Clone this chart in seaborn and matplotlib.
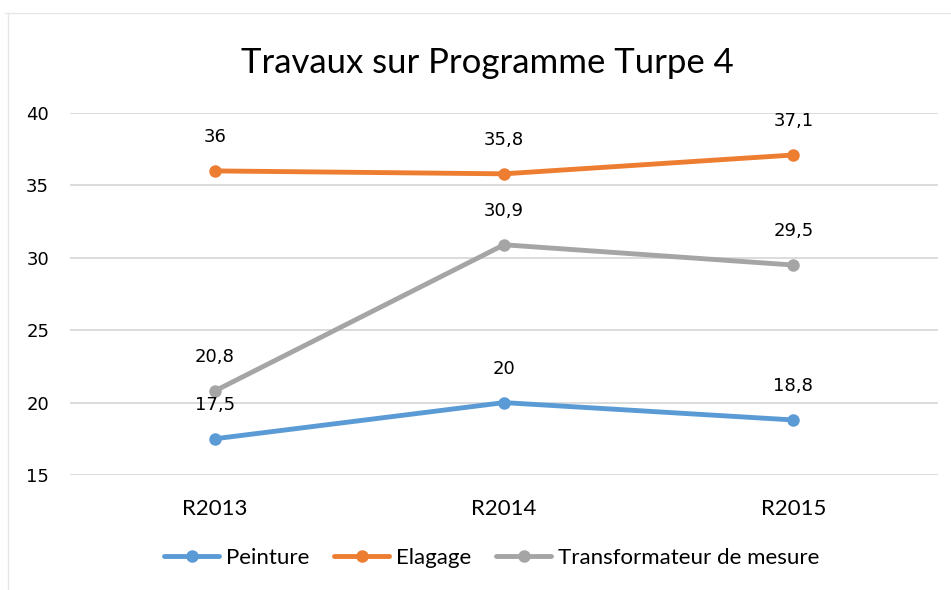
import matplotlib
matplotlib.use("Agg")
import matplotlib.pyplot as plt
import matplotlib.lines as mlines
import seaborn as sns
import pandas as pd

# chart data
categories = ["R2013", "R2014", "R2015"]
peinture = [17.5, 20, 18.8]
elagage = [36, 35.8, 37.1]
transfo = [20.8, 30.9, 29.5]
series_names = ["Peinture", "Elagage", "Transformateur de mesure"]
colors = ["#5B9BD5", "#ED7D31", "#A5A5A5"]
y_ticks = [15, 20, 25, 30, 35, 40]

df = pd.DataFrame({
    "annee": categories * 3,
    "serie": [series_names[0]] * 3 + [series_names[1]] * 3 + [series_names[2]] * 3,
    "valeur": peinture + elagage + transfo,
})

sns.set_style("white")
label_font = ["Lato", "DejaVu Sans"]
num_font = ["DejaVu Sans"]

fig = plt.figure(figsize=(9.51, 5.9), dpi=100)
ax = fig.add_axes([70 / 951, 115 / 590, 868 / 951, 362 / 590])

sns.lineplot(data=df, x="annee", y="valeur", hue="serie", palette=colors,
             marker="o", markersize=9, markeredgewidth=0, linewidth=3.5,
             sort=False, ax=ax, legend=False)

ax.set_xlim(-0.5, 2.5)
ax.set_ylim(15, 40)
ax.set_yticks(y_ticks)
ax.set_yticklabels([str(t) for t in y_ticks], fontfamily=num_font, fontsize=13,
                   color="black")
ax.set_xticks(range(len(categories)))
ax.set_xticklabels(categories, fontfamily=label_font, fontsize=16, color="black")
ax.tick_params(axis="x", pad=17, length=0)
ax.tick_params(axis="y", pad=15, length=0)
ax.yaxis.grid(True, color="#D9D9D9", linewidth=1.3)
ax.xaxis.grid(False)
for s in ax.spines.values():
    s.set_visible(False)
ax.set_xlabel("")
ax.set_ylabel("")

# data labels
for vals in [peinture, elagage, transfo]:
    for i, v in enumerate(vals):
        ax.annotate(str(v).replace(".", ","), (i, v), xytext=(0, 18),
                    textcoords="offset points", ha="center", va="bottom",
                    fontfamily=num_font, fontsize=13, color="black")

fig.text(0.513, 0.893, "Travaux sur Programme Turpe 4", ha="center", va="center",
         fontfamily=label_font, fontsize=25, color="black")

handles = [mlines.Line2D([], [], color=c, linewidth=3.5, marker="o",
                         markersize=9, markeredgewidth=0) for c in colors]
fig.legend(handles, series_names, loc="center", bbox_to_anchor=(0.517, 0.054),
           ncol=3, frameon=False, handlelength=2.5, handletextpad=0.3,
           columnspacing=1.1, prop={"family": label_font, "size": 16},
           labelcolor="black")

# faint chart frame (top and left edges)
fig.add_artist(mlines.Line2D([5 / 951, 1], [1 - 13 / 590, 1 - 13 / 590],
                             color="#E6E6E6", linewidth=1))
fig.add_artist(mlines.Line2D([8 / 951, 8 / 951], [0, 1 - 13 / 590],
                             color="#E6E6E6", linewidth=1))

fig.savefig("out.png", dpi=100)
